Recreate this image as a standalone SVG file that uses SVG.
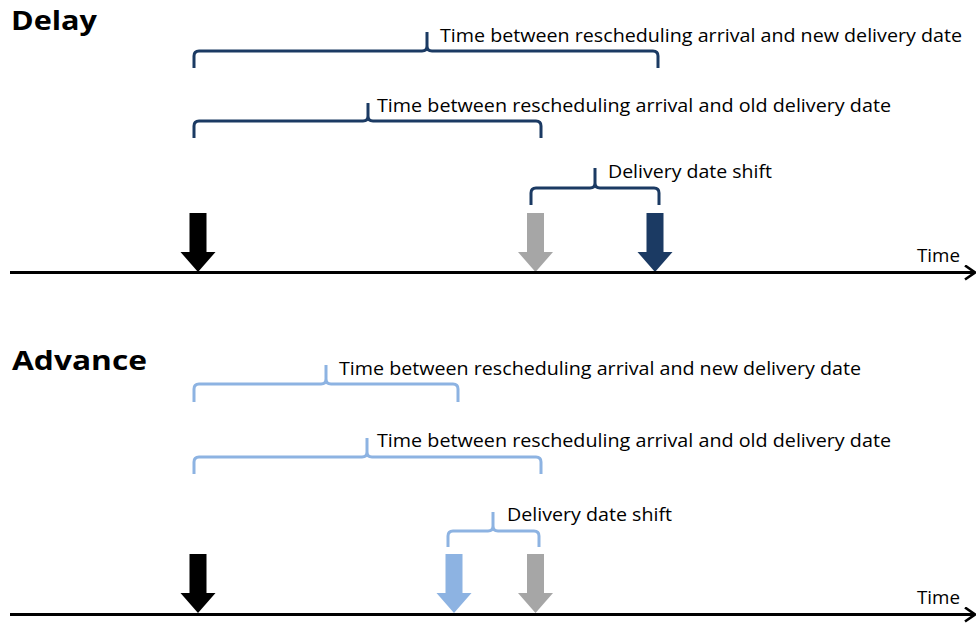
<svg xmlns="http://www.w3.org/2000/svg" width="979" height="628" viewBox="0 0 979 628">
  <style>
    .title { font-family: "Open Sans", "Liberation Sans", sans-serif; font-weight: bold; font-size: 27px; fill: #000; }
    .lbl { font-family: "Open Sans", "Liberation Sans", sans-serif; font-size: 19px; fill: #000; }
    .axis { stroke: #000; stroke-width: 3; fill: none; }
    .brace { fill: none; stroke-width: 3; stroke-linejoin: round; stroke-linecap: butt; }
    .navy { stroke: #1B3A63; }
    .light { stroke: #8DB3E2; }
  </style>
  <defs>
    <marker id="open-head" viewBox="0 0 12 16" refX="11" refY="8" markerWidth="12" markerHeight="16" markerUnits="userSpaceOnUse" orient="auto">
      <path d="M1,1 L11,8 L1,15" fill="none" stroke="#000" stroke-width="2.6"/>
    </marker>
    <!-- block arrow pointing down, tip at (0,0) -->
    <path id="down-arrow" d="M-8.5,-59 L8.5,-59 L8.5,-20 L17.5,-20 L0,0 L-17.5,-20 L-8.5,-20 Z"/>
  </defs>

  <!-- Delay panel -->
  <g id="delay-title"><text class="title" x="11" y="30" textLength="86" lengthAdjust="spacingAndGlyphs">Delay</text></g>

  <g id="delay-new">
    <path class="brace navy" d="M194,68 L194,56 Q194,51 199,51 L422,51 Q427,51 427,46 L427,32 M427,46 Q427,51 432,51 L653,51 Q658,51 658,56 L658,68"/>
    <text class="lbl" x="440" y="42" textLength="522" lengthAdjust="spacingAndGlyphs">Time between rescheduling arrival and new delivery date</text>
  </g>
  <g id="delay-old">
    <path class="brace navy" d="M194,138 L194,126 Q194,121 199,121 L363,121 Q368,121 368,116 L368,103 M368,116 Q368,121 373,121 L536,121 Q541,121 541,126 L541,138"/>
    <text class="lbl" x="377" y="112" textLength="514" lengthAdjust="spacingAndGlyphs">Time between rescheduling arrival and old delivery date</text>
  </g>
  <g id="delay-shift">
    <path class="brace navy" d="M531,205 L531,193 Q531,188 536,188 L590,188 Q595,188 595,183 L595,168 M595,183 Q595,188 600,188 L654,188 Q659,188 659,193 L659,205"/>
    <text class="lbl" x="608" y="178" textLength="164" lengthAdjust="spacingAndGlyphs">Delivery date shift</text>
  </g>

  <g id="delay-arrival"><use href="#down-arrow" x="198" y="272" fill="#000"/></g>
  <g id="delay-old-date"><use href="#down-arrow" x="535.5" y="272" fill="#A6A6A6"/></g>
  <g id="delay-new-date"><use href="#down-arrow" x="655" y="272" fill="#1B3A63"/></g>

  <!-- Advance panel -->
  <g id="advance-title"><text class="title" x="12" y="370" textLength="135" lengthAdjust="spacingAndGlyphs">Advance</text></g>

  <g id="advance-new">
    <path class="brace light" d="M194,402 L194,389 Q194,384 199,384 L321,384 Q326,384 326,379 L326,365 M326,379 Q326,384 331,384 L453,384 Q458,384 458,389 L458,402"/>
    <text class="lbl" x="339" y="375" textLength="522" lengthAdjust="spacingAndGlyphs">Time between rescheduling arrival and new delivery date</text>
  </g>
  <g id="advance-old">
    <path class="brace light" d="M194,474 L194,462 Q194,457 199,457 L362,457 Q367,457 367,452 L367,438 M367,452 Q367,457 372,457 L536,457 Q541,457 541,462 L541,474"/>
    <text class="lbl" x="377" y="447" textLength="514" lengthAdjust="spacingAndGlyphs">Time between rescheduling arrival and old delivery date</text>
  </g>
  <g id="advance-shift">
    <path class="brace light" d="M448,547 L448,536 Q448,531 453,531 L488,531 Q493,531 493,526 L493,512 M493,526 Q493,531 498,531 L534,531 Q539,531 539,536 L539,547"/>
    <text class="lbl" x="507" y="521" textLength="165" lengthAdjust="spacingAndGlyphs">Delivery date shift</text>
  </g>

  <g id="advance-arrival"><use href="#down-arrow" x="198" y="613" fill="#000"/></g>
  <g id="advance-new-date"><use href="#down-arrow" x="454" y="613" fill="#8DB3E2"/></g>
  <g id="advance-old-date"><use href="#down-arrow" x="535.5" y="613" fill="#A6A6A6"/></g>

  <!-- time axes -->
  <g id="connectors">
    <line class="axis" x1="10" y1="272.5" x2="975" y2="272.5" marker-end="url(#open-head)"/>
    <line class="axis" x1="10" y1="614.5" x2="975" y2="614.5" marker-end="url(#open-head)"/>
  </g>
  <g id="axis-labels">
    <text class="lbl" x="917" y="262" textLength="43" lengthAdjust="spacingAndGlyphs">Time</text>
    <text class="lbl" x="917" y="604" textLength="43" lengthAdjust="spacingAndGlyphs">Time</text>
  </g>
</svg>
